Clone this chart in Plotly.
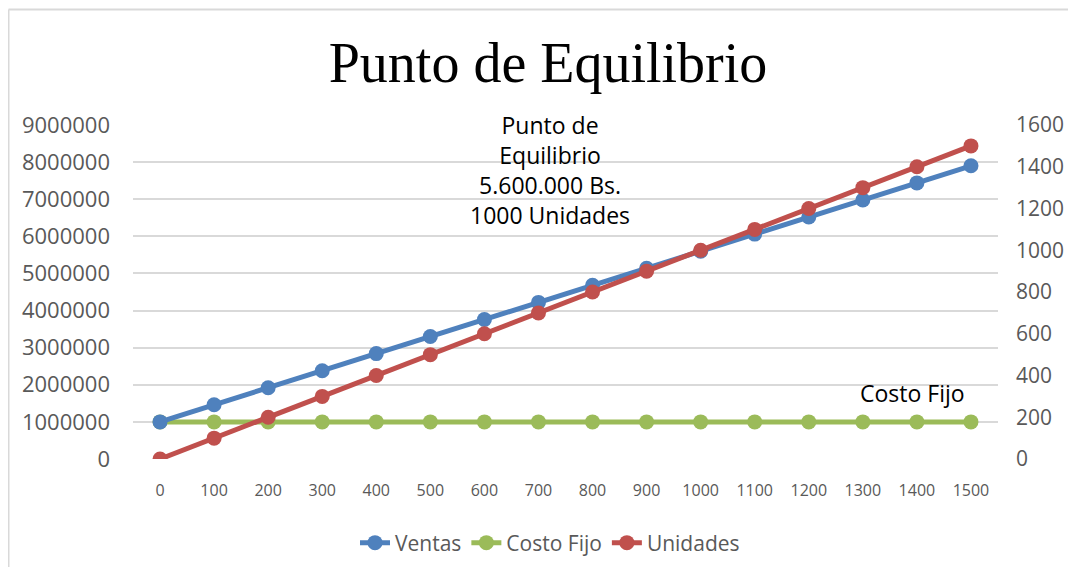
import plotly.graph_objects as go

UNITS = [0, 100, 200, 300, 400, 500, 600, 700, 800, 900, 1000, 1100, 1200, 1300, 1400, 1500]
CATEGORIES = [str(u) for u in UNITS]
VENTAS = [1000000, 1460000, 1920000, 2380000, 2840000, 3300000, 3760000, 4220000,
          4680000, 5140000, 5600000, 6060000, 6520000, 6980000, 7440000, 7900000]
COSTO_FIJO = [1000000] * 16
UNIDADES = UNITS

LEFT_TICKS = [0, 1000000, 2000000, 3000000, 4000000, 5000000, 6000000, 7000000, 8000000, 9000000]
RIGHT_TICKS = [0, 200, 400, 600, 800, 1000, 1200, 1400, 1600]

BLUE = "#4F81BD"
GREEN = "#9BBB59"
RED = "#C0504D"
GRID = "#D9D9D9"
TICK_FONT = {"family": "Open Sans", "size": 22, "color": "#595959"}
RIGHT_TICK_FONT = {"family": "Open Sans", "size": 21, "color": "#595959"}
X_TICK_FONT = {"family": "Liberation Sans Narrow, Open Sans", "size": 16, "color": "#595959"}
LABEL_FONT = {"family": "Open Sans", "size": 23, "color": "black"}

# the page body adds an 8px margin, so work in figure pixels = screen - 8
# and keep the figure small enough that no scrollbars appear
SHIFT = 8
FIG_W, FIG_H = 1060, 559
L, R, T, B = 133 - SHIFT, 998 - SHIFT, 125 - SHIFT, 459 - SHIFT
W, H = R - L, B - T


def px_x(px):
    return (px - SHIFT - L) / W


def px_y(py):
    return (B - (py - SHIFT)) / H


def line_trace(y, name, color, yaxis="y"):
    return go.Scatter(
        x=CATEGORIES,
        y=y,
        name=name,
        yaxis=yaxis,
        mode="lines+markers",
        line={"color": color, "width": 5},
        marker={"color": color, "size": 15},
    )


data = [
    line_trace(COSTO_FIJO, "Costo Fijo", GREEN),
    line_trace(VENTAS, "Ventas", BLUE),
    line_trace(UNIDADES, "Unidades", RED, yaxis="y2"),
]

layout = go.Layout(
    width=FIG_W,
    height=FIG_H,
    margin={"l": L, "r": FIG_W - R, "t": T, "b": FIG_H - B},
    paper_bgcolor="white",
    plot_bgcolor="white",
    title={
        "text": "Punto de Equilibrio",
        "font": {"family": "Liberation Serif", "size": 56, "color": "black"},
        "x": 540 / FIG_W,
        "xanchor": "center",
        "y": 1 - 54 / FIG_H,
        "yanchor": "middle",
    },
    xaxis={
        "type": "category",
        "range": [-0.5, 15.5],
        "showgrid": False,
        "zeroline": False,
        "automargin": False,
        "tickfont": X_TICK_FONT,
        "ticklabelstandoff": 20,
    },
    yaxis={
        "range": [0, 9000000],
        "tickvals": LEFT_TICKS,
        "ticktext": [str(v) for v in LEFT_TICKS],
        "showgrid": True,
        "gridcolor": GRID,
        "gridwidth": 1.5,
        "zeroline": False,
        "automargin": False,
        "tickfont": TICK_FONT,
        "ticklabelstandoff": 22,
    },
    yaxis2={
        "range": [0, 1600],
        "tickvals": RIGHT_TICKS,
        "overlaying": "y",
        "side": "right",
        "showgrid": False,
        "zeroline": False,
        "automargin": False,
        "tickfont": RIGHT_TICK_FONT,
        "ticklabelstandoff": 17,
    },
    legend={
        "orientation": "h",
        "x": 542 / FIG_W,
        "xref": "container",
        "xanchor": "center",
        "y": 1 - 535 / FIG_H,
        "yref": "container",
        "yanchor": "middle",
        "font": {"family": "Open Sans", "size": 21, "color": "#595959"},
        "traceorder": "normal",
    },
    annotations=[
        {
            "text": "Punto de<br>Equilibrio<br>5.600.000 Bs.<br>1000 Unidades",
            "xref": "paper",
            "yref": "paper",
            "x": px_x(550),
            "y": px_y(170),
            "xanchor": "center",
            "yanchor": "middle",
            "showarrow": False,
            "font": LABEL_FONT,
        },
        {
            "text": "Costo Fijo",
            "xref": "paper",
            "yref": "paper",
            "x": px_x(912),
            "y": px_y(393),
            "xanchor": "center",
            "yanchor": "middle",
            "showarrow": False,
            "font": LABEL_FONT,
        },
    ],
    shapes=[
        {"type": "line", "xref": "paper", "yref": "paper",
         "x0": px_x(8.5), "x1": px_x(1068), "y0": px_y(9.5), "y1": px_y(9.5),
         "line": {"color": GRID, "width": 2}},
        {"type": "line", "xref": "paper", "yref": "paper",
         "x0": px_x(8.5), "x1": px_x(8.5), "y0": px_y(9.5), "y1": px_y(567),
         "line": {"color": GRID, "width": 2}},
    ],
)

fig = go.Figure(data=data, layout=layout)

# legend order as in the reference: Ventas, Costo Fijo, Unidades
fig.data[0].legendrank = 2
fig.data[1].legendrank = 1
fig.data[2].legendrank = 3

fig.write_html("out.html")
